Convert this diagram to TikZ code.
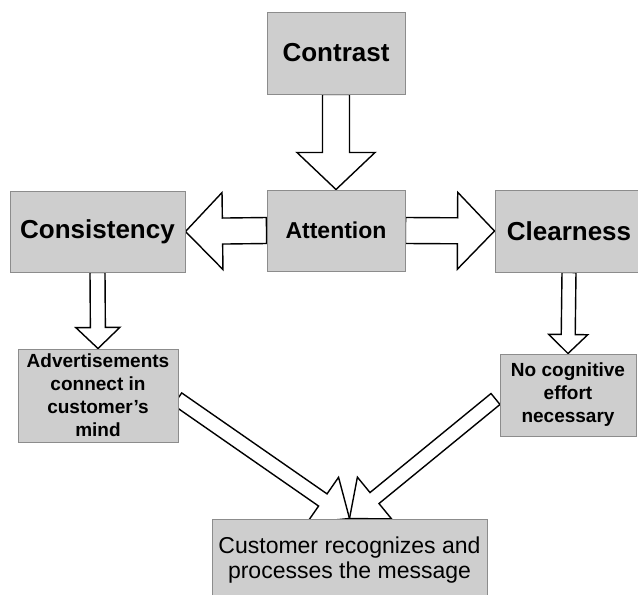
\documentclass[tikz,border=0pt]{standalone}
\usepackage{fontspec}
\setmainfont{Liberation Sans}
\usetikzlibrary{calc}
\definecolor{boxfill}{RGB}{206,206,206}
\definecolor{boxline}{RGB}{140,140,140}
\pgfdeclarelayer{background}
\pgfsetlayers{background,main}

% Block arrow: #1 name, #2 start, #3 tip, #4 half shaft width,
% #5 half head width, #6 head length
\newcommand\blockarrow[6]{%
  \coordinate (#1s) at (#2);
  \coordinate (#1t) at (#3);
  \coordinate (#1h) at ($(#1t)!#6!(#1s)$);
  \draw[arrowbody]
    ($(#1s)!#4!90:(#1t)$) -- ($(#1h)!#4!-90:(#1s)$) --
    ($(#1h)!#5!-90:(#1s)$) -- (#1t) --
    ($(#1h)!#5!90:(#1s)$) -- ($(#1h)!#4!90:(#1s)$) --
    ($(#1s)!#4!-90:(#1t)$) -- cycle;
}

\begin{document}
\begin{tikzpicture}[x=1pt,y=-1pt,
  box/.style={draw=boxline, fill=boxfill, line width=1pt, inner sep=0pt,
    align=center},
  bigtitle/.style={box, font=\fontsize{26}{31}\selectfont\bfseries},
  midtitle/.style={box, font=\fontsize{23}{27}\selectfont\bfseries},
  smalltitle/.style={box, font=\fontsize{19}{23}\selectfont\bfseries},
  plaintitle/.style={box, font=\fontsize{23}{25}\selectfont},
  arrowbody/.style={draw=black, fill=white, line width=1.4pt, line join=miter}]
\useasboundingbox (0,0) rectangle (638,595);
\clip (0,0) rectangle (638,595);

\node[bigtitle, minimum width=138pt, minimum height=82pt] (contrast) at (336,53) {Contrast};
\node[midtitle, minimum width=138pt, minimum height=81pt] (attention) at (336,230.5) {Attention};
\node[bigtitle, minimum width=175pt, minimum height=81pt] (consistency) at (97.5,231.5) {Consistency};
\node[bigtitle, minimum width=148pt, minimum height=82pt] (clearness) at (569,231) {Clearness};
\node[smalltitle, minimum width=160pt, minimum height=93pt] (adv) at (98,395.5)
  {Advertisements\\connect in\\customer’s\\mind};
\node[smalltitle, minimum width=136pt, minimum height=82pt] (nocog) at (568,395)
  {No cognitive\\effort\\necessary};
\node[plaintitle, minimum width=275pt, minimum height=82pt] (cust) at (349.5,560)
  {Customer recognizes and\\processes the message};

\begin{pgfonlayer}{background}
  \blockarrow{a}{contrast.south}{attention.north}{13.5pt}{39pt}{37pt}
  \blockarrow{b}{attention.west}{consistency.east}{13pt}{38.5pt}{37pt}
  \blockarrow{c}{attention.east}{clearness.west}{13pt}{38.5pt}{37pt}
  \blockarrow{d}{consistency.south}{adv.north}{7.5pt}{22pt}{21pt}
  \blockarrow{e}{clearness.south}{nocog.north}{7pt}{19.5pt}{19pt}
  \blockarrow{f}{$(adv.east)+(-1,3.5)$}{cust.north}{7.4pt}{27.6pt}{32.5pt}
  \blockarrow{g}{$(nocog.west)+(-4,4)$}{cust.north}{7.1pt}{27pt}{32.3pt}
\end{pgfonlayer}
\end{tikzpicture}
\end{document}
